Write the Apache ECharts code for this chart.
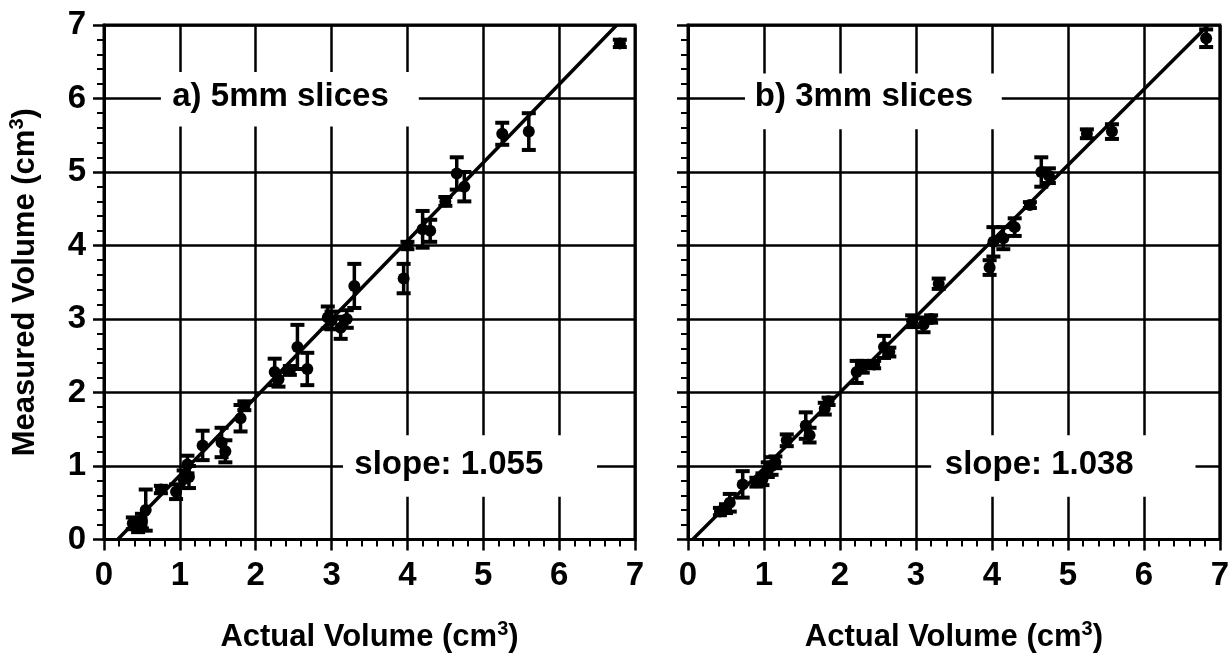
<!DOCTYPE html>
<html><head><meta charset="utf-8">
<script src="https://cdn.jsdelivr.net/npm/echarts@6/dist/echarts.min.js"></script>
<style>html,body{margin:0;padding:0;background:#fff}#c{width:1232px;height:658px}</style>
</head><body><div id="c"></div>
<script>
// ---- data ----
const tickLabels = ['0','1','2','3','4','5','6','7'];

// panel a) 5mm slices: actual volume, measured volume, error (half-length)
const aX   = [0.38,0.45,0.50,0.55,0.75,0.95,1.05,1.10,1.12,1.30,1.55,1.60,1.80,1.85,2.25,2.30,2.45,2.55,2.68,2.95,3.00,3.12,3.20,3.30,3.95,4.00,4.20,4.30,4.50,4.65,4.75,5.25,5.60,6.80];
const aY   = [0.22,0.18,0.25,0.40,0.68,0.65,0.82,1.02,0.85,1.28,1.32,1.20,1.65,1.82,2.28,2.18,2.30,2.62,2.32,3.02,2.98,2.88,3.00,3.45,3.55,4.00,4.22,4.20,4.60,4.98,4.80,5.52,5.55,6.75];
const aErr = [0.08,0.08,0.10,0.28,0.05,0.10,0.12,0.12,0.15,0.20,0.20,0.15,0.18,0.06,0.18,0.10,0.06,0.30,0.22,0.15,0.12,0.15,0.12,0.30,0.20,0.05,0.25,0.15,0.06,0.22,0.20,0.15,0.25,0.05];

// panel b) 3mm slices
const bX   = [0.42,0.50,0.55,0.72,0.90,0.98,1.05,1.10,1.15,1.30,1.55,1.60,1.80,1.85,2.22,2.30,2.45,2.58,2.65,2.95,3.10,3.20,3.30,3.97,4.02,4.15,4.30,4.50,4.65,4.75,5.25,5.58,6.82];
const bY   = [0.38,0.42,0.50,0.75,0.78,0.82,0.95,1.00,1.05,1.35,1.55,1.42,1.78,1.88,2.28,2.35,2.38,2.62,2.55,2.97,2.92,3.00,3.48,3.70,4.05,4.10,4.25,4.55,5.00,4.95,5.52,5.55,6.82];
const bErr = [0.05,0.06,0.12,0.18,0.06,0.08,0.10,0.12,0.08,0.08,0.18,0.10,0.08,0.05,0.15,0.08,0.05,0.15,0.06,0.08,0.10,0.05,0.07,0.10,0.20,0.15,0.12,0.04,0.20,0.10,0.06,0.10,0.12];

// fitted lines (end points)
const aFit = [[0.18,0],[6.76,7]];
const bFit = [[0.06,0],[6.85,7]];

const aLabel = 'a) 5mm slices', bLabel = 'b) 3mm slices';
const aSlope = 'slope: 1.055', bSlope = 'slope: 1.038';
const xTitle = 'Actual Volume (cm{s|3})';
const yTitle = 'Measured Volume (cm{s|3})';

// ---- chart ----
const FONT = '"Liberation Sans", Arial, Helvetica, sans-serif';
const chart = echarts.init(document.getElementById('c'), null, {renderer:'canvas'});

const rich = {s:{fontSize:20, fontWeight:'bold', fontFamily:FONT, color:'#000', verticalAlign:'top', padding:[0,0,16,0]}};

function xAxis(gi){
  return {
    gridIndex:gi, type:'value', min:0, max:7, interval:1,
    axisLine:{show:true, onZero:false, lineStyle:{color:'#000', width:3}},
    axisTick:{show:true, inside:false, length:11, lineStyle:{color:'#000', width:2.5}},
    minorTick:{show:true, splitNumber:5, length:7, lineStyle:{color:'#000', width:2}},
    splitLine:{show:true, lineStyle:{color:'#000', width:2.5}},
    axisLabel:{color:'#000', fontSize:33, fontWeight:'bold', fontFamily:FONT, margin:20,
      formatter:(v)=>tickLabels[Math.round(v)]},
    name:xTitle, nameLocation:'middle', nameGap:80,
    nameTextStyle:{color:'#000', fontSize:31, fontWeight:'bold', fontFamily:FONT, rich:rich}
  };
}
function yAxis(gi, showLabels){
  return {
    gridIndex:gi, type:'value', min:0, max:7, interval:1,
    axisLine:{show:true, onZero:false, lineStyle:{color:'#000', width:3}},
    axisTick:{show:true, inside:false, length:11, lineStyle:{color:'#000', width:2.5}},
    minorTick:{show:true, splitNumber:5, length:7, lineStyle:{color:'#000', width:2}},
    splitLine:{show:true, lineStyle:{color:'#000', width:2.5}},
    axisLabel:{show:showLabels, color:'#000', fontSize:33, fontWeight:'bold', fontFamily:FONT, margin:18,
      formatter:(v)=>tickLabels[Math.round(v)]},
    name: showLabels ? yTitle : '', nameLocation:'middle', nameGap:61, nameRotate:90,
    nameTextStyle:{color:'#000', fontSize:31, fontWeight:'bold', fontFamily:FONT, rich:rich}
  };
}

function errRender(params, api){
  const x = api.value(0), y = api.value(1), e = api.value(2);
  const hi = api.coord([x, y + e]), lo = api.coord([x, y - e]);
  const cw = 7;
  return {type:'group', children:[
    {type:'line', shape:{x1:hi[0], y1:hi[1], x2:lo[0], y2:lo[1]}, style:{stroke:'#000', lineWidth:3.5}},
    {type:'line', shape:{x1:hi[0]-cw, y1:hi[1], x2:hi[0]+cw, y2:hi[1]}, style:{stroke:'#000', lineWidth:4}},
    {type:'line', shape:{x1:lo[0]-cw, y1:lo[1], x2:lo[0]+cw, y2:lo[1]}, style:{stroke:'#000', lineWidth:4}}
  ]};
}

function boxSeries(gi, text, box, at){
  return {
    type:'custom', xAxisIndex:gi, yAxisIndex:gi, z:3, silent:true,
    data:[at],
    renderItem:function(params, api){
      const p0 = api.coord([box[0], box[3]]), p1 = api.coord([box[1], box[2]]);
      const t = api.coord([api.value(0), api.value(1)]);
      return {type:'group', children:[
        {type:'rect', shape:{x:p0[0], y:p0[1], width:p1[0]-p0[0], height:p1[1]-p0[1]}, style:{fill:'#fff'}},
        {type:'text', x:t[0], y:t[1], style:{text:text, fill:'#000', fontSize:33, fontWeight:'bold', fontFamily:FONT, align:'left', verticalAlign:'middle'}}
      ]};
    }
  };
}

function zip3(x, y, e){ return x.map((v,i)=>[v, y[i], e[i]]); }
function zip2(x, y){ return x.map((v,i)=>[v, y[i]]); }

const option = {
  backgroundColor:'#fff',
  animation:false,
  grid:[
    {left:104, top:25, width:531, height:530, show:true, borderColor:'#000', borderWidth:3, backgroundColor:'#fff'},
    {left:688, top:25, width:533, height:530, show:true, borderColor:'#000', borderWidth:3, backgroundColor:'#fff'}
  ],
  xAxis:[xAxis(0), xAxis(1)],
  yAxis:[yAxis(0, true), yAxis(1, false)],
  series:[
    boxSeries(0, aLabel, [0.75, 4.15, 5.62, 6.36], [0.9, 6.02]),
    boxSeries(0, aSlope, [3.15, 6.5, 0.58, 1.42], [3.3, 1.02]),
    boxSeries(1, bLabel, [0.75, 4.13, 5.58, 6.34], [0.88, 6.02]),
    boxSeries(1, bSlope, [3.2, 6.68, 0.58, 1.42], [3.38, 1.02]),
    {type:'line', xAxisIndex:0, yAxisIndex:0, data:aFit, symbol:'none', z:4, lineStyle:{color:'#000', width:3.5}},
    {type:'line', xAxisIndex:1, yAxisIndex:1, data:bFit, symbol:'none', z:4, lineStyle:{color:'#000', width:3.5}},
    {type:'custom', xAxisIndex:0, yAxisIndex:0, z:5, data:zip3(aX, aY, aErr), renderItem:errRender},
    {type:'custom', xAxisIndex:1, yAxisIndex:1, z:5, data:zip3(bX, bY, bErr), renderItem:errRender},
    {type:'scatter', xAxisIndex:0, yAxisIndex:0, z:6, data:zip2(aX, aY), symbol:'circle', symbolSize:12, itemStyle:{color:'#000', opacity:1}},
    {type:'scatter', xAxisIndex:1, yAxisIndex:1, z:6, data:zip2(bX, bY), symbol:'circle', symbolSize:12, itemStyle:{color:'#000', opacity:1}}
  ]
};
chart.setOption(option);
</script>
</body></html>
